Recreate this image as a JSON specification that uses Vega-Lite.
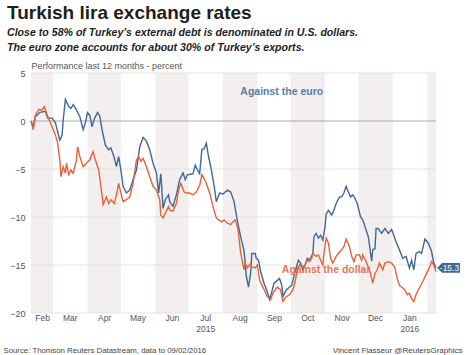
{
  "$schema": "https://vega.github.io/schema/vega-lite/v6.json",
  "width": 405,
  "height": 240,
  "autosize": {"type": "none"},
  "padding": {"left": 31, "top": 73, "right": 37, "bottom": 42},
  "background": "white",
  "config": {"view": {"stroke": null}, "font": "Liberation Sans"},
  "title": {
    "text": "Turkish lira exchange rates",
    "subtitle": ["Close to 58% of Turkey’s external debt is denominated in U.S. dollars.", "The euro zone accounts for about 30% of Turkey’s exports."],
    "anchor": "start",
    "frame": "group",
    "dx": -24,
    "offset": 7,
    "font": "Liberation Sans",
    "fontSize": 19,
    "fontWeight": "bold",
    "color": "#1e1e1e",
    "subtitleFont": "Liberation Sans",
    "subtitleFontSize": 10.6,
    "subtitleFontStyle": "italic",
    "subtitleFontWeight": "bold",
    "subtitleColor": "#222222",
    "subtitlePadding": 5,
    "subtitleLineHeight": 15
  },
  "datasets": {
    "bands": [
      {"d": "2015-02-09", "d2": "2015-03-01"},
      {"d": "2015-04-01", "d2": "2015-05-01"},
      {"d": "2015-06-01", "d2": "2015-07-01"},
      {"d": "2015-08-01", "d2": "2015-09-01"},
      {"d": "2015-10-01", "d2": "2015-11-01"},
      {"d": "2015-12-01", "d2": "2016-01-01"},
      {"d": "2016-02-01", "d2": "2016-02-09"}
    ],
    "grid": [{"v": 5}, {"v": 0}, {"v": -5}, {"v": -10}, {"v": -15}, {"v": -20}],
    "notes": [
      {"d": "2015-09-23", "v": 3.0, "t": "Against the euro", "s": "euro"},
      {"d": "2015-11-02", "v": -15.5, "t": "Against the dollar", "s": "dollar"}
    ],
    "tag": [{"d": "2016-02-09", "v": -15.3, "t": "-15.3"}],
    "series": [
      {"d": "2015-02-09", "s": "euro", "v": 0},
      {"d": "2015-02-11", "s": "euro", "v": -0.6},
      {"d": "2015-02-13", "s": "euro", "v": 0.45},
      {"d": "2015-02-17", "s": "euro", "v": 0.9},
      {"d": "2015-02-22", "s": "euro", "v": 1.0},
      {"d": "2015-02-24", "s": "euro", "v": 0.3},
      {"d": "2015-02-28", "s": "euro", "v": 0.3},
      {"d": "2015-03-03", "s": "euro", "v": -0.2},
      {"d": "2015-03-07", "s": "euro", "v": -2.0},
      {"d": "2015-03-09", "s": "euro", "v": -1.5},
      {"d": "2015-03-10", "s": "euro", "v": 0.1},
      {"d": "2015-03-12", "s": "euro", "v": 2.26},
      {"d": "2015-03-15", "s": "euro", "v": 1.5},
      {"d": "2015-03-17", "s": "euro", "v": 1.3},
      {"d": "2015-03-19", "s": "euro", "v": 1.7},
      {"d": "2015-03-22", "s": "euro", "v": 1.15},
      {"d": "2015-03-25", "s": "euro", "v": 0.45},
      {"d": "2015-03-28", "s": "euro", "v": -0.9},
      {"d": "2015-03-30", "s": "euro", "v": -0.2},
      {"d": "2015-04-01", "s": "euro", "v": 0.87},
      {"d": "2015-04-03", "s": "euro", "v": 0.6},
      {"d": "2015-04-05", "s": "euro", "v": -0.6},
      {"d": "2015-04-07", "s": "euro", "v": 0.2},
      {"d": "2015-04-10", "s": "euro", "v": 0.9},
      {"d": "2015-04-12", "s": "euro", "v": 0.5},
      {"d": "2015-04-14", "s": "euro", "v": -0.9},
      {"d": "2015-04-17", "s": "euro", "v": -2.5},
      {"d": "2015-04-20", "s": "euro", "v": -3.0},
      {"d": "2015-04-22", "s": "euro", "v": -2.8},
      {"d": "2015-04-25", "s": "euro", "v": -3.8},
      {"d": "2015-04-27", "s": "euro", "v": -4.75},
      {"d": "2015-04-29", "s": "euro", "v": -3.7},
      {"d": "2015-05-01", "s": "euro", "v": -5.1},
      {"d": "2015-05-03", "s": "euro", "v": -6.8},
      {"d": "2015-05-06", "s": "euro", "v": -7.5},
      {"d": "2015-05-09", "s": "euro", "v": -7.2},
      {"d": "2015-05-12", "s": "euro", "v": -6.1},
      {"d": "2015-05-15", "s": "euro", "v": -5.1},
      {"d": "2015-05-18", "s": "euro", "v": -2.7},
      {"d": "2015-05-21", "s": "euro", "v": -1.7},
      {"d": "2015-05-24", "s": "euro", "v": -2.1},
      {"d": "2015-05-27", "s": "euro", "v": -3.0},
      {"d": "2015-05-30", "s": "euro", "v": -4.4},
      {"d": "2015-06-02", "s": "euro", "v": -5.4},
      {"d": "2015-06-04", "s": "euro", "v": -7.5},
      {"d": "2015-06-06", "s": "euro", "v": -5.5},
      {"d": "2015-06-08", "s": "euro", "v": -9.1},
      {"d": "2015-06-10", "s": "euro", "v": -8.2},
      {"d": "2015-06-13", "s": "euro", "v": -7.7},
      {"d": "2015-06-14", "s": "euro", "v": -8.4},
      {"d": "2015-06-17", "s": "euro", "v": -8.9},
      {"d": "2015-06-20", "s": "euro", "v": -7.7},
      {"d": "2015-06-23", "s": "euro", "v": -6.1},
      {"d": "2015-06-26", "s": "euro", "v": -5.4},
      {"d": "2015-06-28", "s": "euro", "v": -6.1},
      {"d": "2015-06-30", "s": "euro", "v": -5.6},
      {"d": "2015-07-05", "s": "euro", "v": -5.5},
      {"d": "2015-07-07", "s": "euro", "v": -4.6},
      {"d": "2015-07-09", "s": "euro", "v": -5.1},
      {"d": "2015-07-11", "s": "euro", "v": -5.5},
      {"d": "2015-07-13", "s": "euro", "v": -2.95},
      {"d": "2015-07-15", "s": "euro", "v": -2.9},
      {"d": "2015-07-17", "s": "euro", "v": -2.3},
      {"d": "2015-07-19", "s": "euro", "v": -3.7},
      {"d": "2015-07-21", "s": "euro", "v": -4.75},
      {"d": "2015-07-24", "s": "euro", "v": -6.7},
      {"d": "2015-07-26", "s": "euro", "v": -8.4},
      {"d": "2015-07-29", "s": "euro", "v": -7.5},
      {"d": "2015-08-01", "s": "euro", "v": -7.6},
      {"d": "2015-08-05", "s": "euro", "v": -7.2},
      {"d": "2015-08-08", "s": "euro", "v": -7.4},
      {"d": "2015-08-11", "s": "euro", "v": -8.4},
      {"d": "2015-08-14", "s": "euro", "v": -10.4},
      {"d": "2015-08-17", "s": "euro", "v": -12.1},
      {"d": "2015-08-20", "s": "euro", "v": -13.5},
      {"d": "2015-08-22", "s": "euro", "v": -16.1},
      {"d": "2015-08-24", "s": "euro", "v": -17.3},
      {"d": "2015-08-26", "s": "euro", "v": -15.8},
      {"d": "2015-08-27", "s": "euro", "v": -13.8},
      {"d": "2015-08-30", "s": "euro", "v": -13.8},
      {"d": "2015-08-31", "s": "euro", "v": -14.3},
      {"d": "2015-09-02", "s": "euro", "v": -14.5},
      {"d": "2015-09-04", "s": "euro", "v": -15.7},
      {"d": "2015-09-07", "s": "euro", "v": -16.9},
      {"d": "2015-09-10", "s": "euro", "v": -17.8},
      {"d": "2015-09-12", "s": "euro", "v": -18.6},
      {"d": "2015-09-14", "s": "euro", "v": -17.8},
      {"d": "2015-09-16", "s": "euro", "v": -16.9},
      {"d": "2015-09-19", "s": "euro", "v": -16.6},
      {"d": "2015-09-21", "s": "euro", "v": -16.4},
      {"d": "2015-09-23", "s": "euro", "v": -17.1},
      {"d": "2015-09-24", "s": "euro", "v": -18.3},
      {"d": "2015-09-27", "s": "euro", "v": -17.6},
      {"d": "2015-09-29", "s": "euro", "v": -17.4},
      {"d": "2015-10-02", "s": "euro", "v": -17.1},
      {"d": "2015-10-05", "s": "euro", "v": -15.7},
      {"d": "2015-10-08", "s": "euro", "v": -14.5},
      {"d": "2015-10-10", "s": "euro", "v": -14.8},
      {"d": "2015-10-12", "s": "euro", "v": -15.5},
      {"d": "2015-10-14", "s": "euro", "v": -15.0},
      {"d": "2015-10-16", "s": "euro", "v": -14.3},
      {"d": "2015-10-18", "s": "euro", "v": -14.5},
      {"d": "2015-10-21", "s": "euro", "v": -13.8},
      {"d": "2015-10-22", "s": "euro", "v": -12.05},
      {"d": "2015-10-24", "s": "euro", "v": -11.7},
      {"d": "2015-10-26", "s": "euro", "v": -12.2},
      {"d": "2015-10-28", "s": "euro", "v": -11.9},
      {"d": "2015-10-30", "s": "euro", "v": -12.4},
      {"d": "2015-11-01", "s": "euro", "v": -11.0},
      {"d": "2015-11-02", "s": "euro", "v": -9.7},
      {"d": "2015-11-04", "s": "euro", "v": -9.3},
      {"d": "2015-11-07", "s": "euro", "v": -9.8},
      {"d": "2015-11-09", "s": "euro", "v": -9.3},
      {"d": "2015-11-11", "s": "euro", "v": -8.6},
      {"d": "2015-11-14", "s": "euro", "v": -7.9},
      {"d": "2015-11-16", "s": "euro", "v": -7.9},
      {"d": "2015-11-18", "s": "euro", "v": -7.5},
      {"d": "2015-11-20", "s": "euro", "v": -6.8},
      {"d": "2015-11-22", "s": "euro", "v": -7.4},
      {"d": "2015-11-24", "s": "euro", "v": -7.9},
      {"d": "2015-11-26", "s": "euro", "v": -7.7},
      {"d": "2015-11-28", "s": "euro", "v": -8.05},
      {"d": "2015-11-30", "s": "euro", "v": -8.6},
      {"d": "2015-12-03", "s": "euro", "v": -10.0},
      {"d": "2015-12-05", "s": "euro", "v": -10.3},
      {"d": "2015-12-07", "s": "euro", "v": -11.0},
      {"d": "2015-12-10", "s": "euro", "v": -12.05},
      {"d": "2015-12-13", "s": "euro", "v": -14.6},
      {"d": "2015-12-14", "s": "euro", "v": -13.4},
      {"d": "2015-12-16", "s": "euro", "v": -13.3},
      {"d": "2015-12-17", "s": "euro", "v": -11.2},
      {"d": "2015-12-19", "s": "euro", "v": -11.2},
      {"d": "2015-12-22", "s": "euro", "v": -11.7},
      {"d": "2015-12-25", "s": "euro", "v": -11.2},
      {"d": "2015-12-28", "s": "euro", "v": -11.7},
      {"d": "2015-12-31", "s": "euro", "v": -11.3},
      {"d": "2016-01-02", "s": "euro", "v": -11.9},
      {"d": "2016-01-04", "s": "euro", "v": -12.6},
      {"d": "2016-01-07", "s": "euro", "v": -13.4},
      {"d": "2016-01-10", "s": "euro", "v": -14.3},
      {"d": "2016-01-13", "s": "euro", "v": -14.1},
      {"d": "2016-01-16", "s": "euro", "v": -15.3},
      {"d": "2016-01-18", "s": "euro", "v": -14.5},
      {"d": "2016-01-20", "s": "euro", "v": -15.5},
      {"d": "2016-01-22", "s": "euro", "v": -13.8},
      {"d": "2016-01-25", "s": "euro", "v": -13.6},
      {"d": "2016-01-27", "s": "euro", "v": -13.8},
      {"d": "2016-01-30", "s": "euro", "v": -12.3},
      {"d": "2016-02-02", "s": "euro", "v": -12.7},
      {"d": "2016-02-05", "s": "euro", "v": -13.6},
      {"d": "2016-02-07", "s": "euro", "v": -14.8},
      {"d": "2016-02-09", "s": "euro", "v": -15.3},
      {"d": "2015-02-09", "s": "dollar", "v": 0},
      {"d": "2015-02-11", "s": "dollar", "v": -0.9},
      {"d": "2015-02-13", "s": "dollar", "v": 0.6},
      {"d": "2015-02-16", "s": "dollar", "v": 1.2},
      {"d": "2015-02-19", "s": "dollar", "v": 1.15},
      {"d": "2015-02-21", "s": "dollar", "v": 1.5},
      {"d": "2015-02-23", "s": "dollar", "v": 0.8},
      {"d": "2015-02-26", "s": "dollar", "v": -0.05},
      {"d": "2015-02-28", "s": "dollar", "v": -0.6},
      {"d": "2015-03-03", "s": "dollar", "v": -1.45},
      {"d": "2015-03-05", "s": "dollar", "v": -2.3},
      {"d": "2015-03-07", "s": "dollar", "v": -4.05},
      {"d": "2015-03-08", "s": "dollar", "v": -5.8},
      {"d": "2015-03-10", "s": "dollar", "v": -4.75},
      {"d": "2015-03-12", "s": "dollar", "v": -5.45},
      {"d": "2015-03-13", "s": "dollar", "v": -4.4},
      {"d": "2015-03-15", "s": "dollar", "v": -5.6},
      {"d": "2015-03-17", "s": "dollar", "v": -5.1},
      {"d": "2015-03-19", "s": "dollar", "v": -5.45},
      {"d": "2015-03-22", "s": "dollar", "v": -4.05},
      {"d": "2015-03-23", "s": "dollar", "v": -2.7},
      {"d": "2015-03-25", "s": "dollar", "v": -3.7},
      {"d": "2015-03-28", "s": "dollar", "v": -4.75},
      {"d": "2015-03-31", "s": "dollar", "v": -4.4},
      {"d": "2015-04-03", "s": "dollar", "v": -4.05},
      {"d": "2015-04-06", "s": "dollar", "v": -3.2},
      {"d": "2015-04-08", "s": "dollar", "v": -4.05},
      {"d": "2015-04-11", "s": "dollar", "v": -5.1},
      {"d": "2015-04-13", "s": "dollar", "v": -6.8},
      {"d": "2015-04-15", "s": "dollar", "v": -8.7},
      {"d": "2015-04-18", "s": "dollar", "v": -7.9},
      {"d": "2015-04-20", "s": "dollar", "v": -8.6},
      {"d": "2015-04-22", "s": "dollar", "v": -8.2},
      {"d": "2015-04-25", "s": "dollar", "v": -8.6},
      {"d": "2015-04-27", "s": "dollar", "v": -7.7},
      {"d": "2015-04-29", "s": "dollar", "v": -6.5},
      {"d": "2015-05-01", "s": "dollar", "v": -7.5},
      {"d": "2015-05-03", "s": "dollar", "v": -8.4},
      {"d": "2015-05-06", "s": "dollar", "v": -8.2},
      {"d": "2015-05-09", "s": "dollar", "v": -7.9},
      {"d": "2015-05-12", "s": "dollar", "v": -6.5},
      {"d": "2015-05-15", "s": "dollar", "v": -4.05},
      {"d": "2015-05-17", "s": "dollar", "v": -3.7},
      {"d": "2015-05-19", "s": "dollar", "v": -4.2},
      {"d": "2015-05-21", "s": "dollar", "v": -3.9},
      {"d": "2015-05-24", "s": "dollar", "v": -4.75},
      {"d": "2015-05-27", "s": "dollar", "v": -5.8},
      {"d": "2015-05-30", "s": "dollar", "v": -6.8},
      {"d": "2015-06-02", "s": "dollar", "v": -7.2},
      {"d": "2015-06-05", "s": "dollar", "v": -8.2},
      {"d": "2015-06-06", "s": "dollar", "v": -9.8},
      {"d": "2015-06-08", "s": "dollar", "v": -10.1},
      {"d": "2015-06-10", "s": "dollar", "v": -9.6},
      {"d": "2015-06-13", "s": "dollar", "v": -8.9},
      {"d": "2015-06-14", "s": "dollar", "v": -9.3},
      {"d": "2015-06-17", "s": "dollar", "v": -9.4},
      {"d": "2015-06-20", "s": "dollar", "v": -8.6},
      {"d": "2015-06-22", "s": "dollar", "v": -7.2},
      {"d": "2015-06-24", "s": "dollar", "v": -6.5},
      {"d": "2015-06-27", "s": "dollar", "v": -7.4},
      {"d": "2015-06-29", "s": "dollar", "v": -7.5},
      {"d": "2015-07-02", "s": "dollar", "v": -7.5},
      {"d": "2015-07-05", "s": "dollar", "v": -7.7},
      {"d": "2015-07-08", "s": "dollar", "v": -7.4},
      {"d": "2015-07-11", "s": "dollar", "v": -6.7},
      {"d": "2015-07-13", "s": "dollar", "v": -5.6},
      {"d": "2015-07-15", "s": "dollar", "v": -6.0},
      {"d": "2015-07-17", "s": "dollar", "v": -6.5},
      {"d": "2015-07-20", "s": "dollar", "v": -7.5},
      {"d": "2015-07-23", "s": "dollar", "v": -8.9},
      {"d": "2015-07-26", "s": "dollar", "v": -10.1},
      {"d": "2015-07-28", "s": "dollar", "v": -10.3},
      {"d": "2015-07-31", "s": "dollar", "v": -10.5},
      {"d": "2015-08-02", "s": "dollar", "v": -10.3},
      {"d": "2015-08-05", "s": "dollar", "v": -10.65},
      {"d": "2015-08-08", "s": "dollar", "v": -10.8},
      {"d": "2015-08-10", "s": "dollar", "v": -10.5},
      {"d": "2015-08-12", "s": "dollar", "v": -10.3},
      {"d": "2015-08-14", "s": "dollar", "v": -11.0},
      {"d": "2015-08-15", "s": "dollar", "v": -11.7},
      {"d": "2015-08-17", "s": "dollar", "v": -13.8},
      {"d": "2015-08-20", "s": "dollar", "v": -15.5},
      {"d": "2015-08-21", "s": "dollar", "v": -14.8},
      {"d": "2015-08-23", "s": "dollar", "v": -15.3},
      {"d": "2015-08-26", "s": "dollar", "v": -14.8},
      {"d": "2015-08-27", "s": "dollar", "v": -15.2},
      {"d": "2015-08-30", "s": "dollar", "v": -15.3},
      {"d": "2015-09-01", "s": "dollar", "v": -15.0},
      {"d": "2015-09-03", "s": "dollar", "v": -16.6},
      {"d": "2015-09-06", "s": "dollar", "v": -17.3},
      {"d": "2015-09-08", "s": "dollar", "v": -17.8},
      {"d": "2015-09-10", "s": "dollar", "v": -18.3},
      {"d": "2015-09-13", "s": "dollar", "v": -18.6},
      {"d": "2015-09-15", "s": "dollar", "v": -17.95},
      {"d": "2015-09-17", "s": "dollar", "v": -17.6},
      {"d": "2015-09-19", "s": "dollar", "v": -17.3},
      {"d": "2015-09-22", "s": "dollar", "v": -17.6},
      {"d": "2015-09-24", "s": "dollar", "v": -18.8},
      {"d": "2015-09-27", "s": "dollar", "v": -18.3},
      {"d": "2015-09-30", "s": "dollar", "v": -18.1},
      {"d": "2015-10-03", "s": "dollar", "v": -17.6},
      {"d": "2015-10-05", "s": "dollar", "v": -16.75},
      {"d": "2015-10-07", "s": "dollar", "v": -15.5},
      {"d": "2015-10-09", "s": "dollar", "v": -15.0},
      {"d": "2015-10-12", "s": "dollar", "v": -15.3},
      {"d": "2015-10-14", "s": "dollar", "v": -15.0},
      {"d": "2015-10-16", "s": "dollar", "v": -14.5},
      {"d": "2015-10-18", "s": "dollar", "v": -14.65},
      {"d": "2015-10-20", "s": "dollar", "v": -14.3},
      {"d": "2015-10-21", "s": "dollar", "v": -13.8},
      {"d": "2015-10-24", "s": "dollar", "v": -14.1},
      {"d": "2015-10-26", "s": "dollar", "v": -13.95},
      {"d": "2015-10-28", "s": "dollar", "v": -14.5},
      {"d": "2015-10-30", "s": "dollar", "v": -15.0},
      {"d": "2015-10-31", "s": "dollar", "v": -13.8},
      {"d": "2015-11-02", "s": "dollar", "v": -12.2},
      {"d": "2015-11-04", "s": "dollar", "v": -12.7},
      {"d": "2015-11-06", "s": "dollar", "v": -14.3},
      {"d": "2015-11-08", "s": "dollar", "v": -14.8},
      {"d": "2015-11-11", "s": "dollar", "v": -14.1},
      {"d": "2015-11-13", "s": "dollar", "v": -13.8},
      {"d": "2015-11-16", "s": "dollar", "v": -13.4},
      {"d": "2015-11-18", "s": "dollar", "v": -13.1},
      {"d": "2015-11-20", "s": "dollar", "v": -12.3},
      {"d": "2015-11-23", "s": "dollar", "v": -13.1},
      {"d": "2015-11-25", "s": "dollar", "v": -14.1},
      {"d": "2015-11-27", "s": "dollar", "v": -14.65},
      {"d": "2015-11-29", "s": "dollar", "v": -13.95},
      {"d": "2015-12-02", "s": "dollar", "v": -13.95},
      {"d": "2015-12-04", "s": "dollar", "v": -14.5},
      {"d": "2015-12-05", "s": "dollar", "v": -13.95},
      {"d": "2015-12-08", "s": "dollar", "v": -14.65},
      {"d": "2015-12-10", "s": "dollar", "v": -15.2},
      {"d": "2015-12-12", "s": "dollar", "v": -15.9},
      {"d": "2015-12-14", "s": "dollar", "v": -16.9},
      {"d": "2015-12-16", "s": "dollar", "v": -15.9},
      {"d": "2015-12-18", "s": "dollar", "v": -15.5},
      {"d": "2015-12-20", "s": "dollar", "v": -14.8},
      {"d": "2015-12-23", "s": "dollar", "v": -15.5},
      {"d": "2015-12-25", "s": "dollar", "v": -14.8},
      {"d": "2015-12-28", "s": "dollar", "v": -14.65},
      {"d": "2015-12-31", "s": "dollar", "v": -14.8},
      {"d": "2016-01-03", "s": "dollar", "v": -15.3},
      {"d": "2016-01-05", "s": "dollar", "v": -16.4},
      {"d": "2016-01-07", "s": "dollar", "v": -17.1},
      {"d": "2016-01-10", "s": "dollar", "v": -17.4},
      {"d": "2016-01-12", "s": "dollar", "v": -17.6},
      {"d": "2016-01-14", "s": "dollar", "v": -18.1},
      {"d": "2016-01-16", "s": "dollar", "v": -17.95},
      {"d": "2016-01-18", "s": "dollar", "v": -18.5},
      {"d": "2016-01-20", "s": "dollar", "v": -18.8},
      {"d": "2016-01-22", "s": "dollar", "v": -18.1},
      {"d": "2016-01-25", "s": "dollar", "v": -17.4},
      {"d": "2016-01-28", "s": "dollar", "v": -16.75},
      {"d": "2016-01-31", "s": "dollar", "v": -16.0},
      {"d": "2016-02-03", "s": "dollar", "v": -15.3},
      {"d": "2016-02-05", "s": "dollar", "v": -14.65},
      {"d": "2016-02-07", "s": "dollar", "v": -15.0},
      {"d": "2016-02-09", "s": "dollar", "v": -15.7}
    ]
  },
  "layer": [
    {
      "data": {"name": "bands"},
      "mark": {"type": "rect", "color": "#f3efee"},
      "encoding": {
        "x": {
          "field": "d", "type": "temporal",
          "scale": {"domain": [{"year": 2015, "month": 2, "date": 9}, {"year": 2016, "month": 2, "date": 9}]},
          "axis": {
            "values": [{"year": 2015, "month": 2, "date": 19}, {"year": 2015, "month": 3, "date": 16}, {"year": 2015, "month": 4, "date": 16}, {"year": 2015, "month": 5, "date": 16}, {"year": 2015, "month": 6, "date": 16}, {"year": 2015, "month": 7, "date": 16}, {"year": 2015, "month": 8, "date": 16}, {"year": 2015, "month": 9, "date": 16}, {"year": 2015, "month": 10, "date": 16}, {"year": 2015, "month": 11, "date": 16}, {"year": 2015, "month": 12, "date": 16}, {"year": 2016, "month": 1, "date": 16}],
            "labelExpr": "month(datum.value) == 6 ? [timeFormat(datum.value, '%b'), '2015'] : (month(datum.value) == 0 ? [timeFormat(datum.value, '%b'), '2016'] : timeFormat(datum.value, '%b'))",
            "ticks": false, "domain": false, "grid": false,
            "labelFont": "Liberation Sans", "labelFontSize": 8.5, "labelColor": "#555555",
            "labelPadding": 0, "labelLineHeight": 11, "labelFlush": false, "labelOverlap": false,
            "title": "Source: Thomson Reuters Datastream, data to 09/02/2016",
            "titleFont": "Liberation Sans", "titleFontSize": 7.8, "titleFontWeight": "normal", "titleColor": "#444444",
            "titleAnchor": "start", "titleAlign": "left", "titleBaseline": "alphabetic", "titleX": -28, "titleY": 39
          }
        },
        "x2": {"field": "d2"}
      }
    },
    {
      "data": {"name": "grid"},
      "mark": {"type": "rule", "strokeWidth": 1},
      "encoding": {
        "y": {
          "field": "v", "type": "quantitative",
          "scale": {"domain": [-20, 5], "nice": false, "zero": false},
          "axis": {
            "orient": "right", "labels": false, "ticks": false, "domain": false, "grid": false,
            "title": "Vincent Flasseur @ReutersGraphics",
            "titleAngle": 0, "titleAlign": "right", "titleBaseline": "alphabetic", "titleX": 26, "titleY": 279,
            "titleFont": "Liberation Sans", "titleFontSize": 8, "titleFontWeight": "normal", "titleColor": "#444444"
          }
        },
        "color": {"condition": {"test": "datum.v === 0", "value": "#a8a8a8"}, "value": "#e3e3e3"}
      }
    },
    {
      "data": {"name": "series"},
      "encoding": {
        "x": {
          "field": "d", "type": "temporal",
          "scale": {"domain": [{"year": 2015, "month": 2, "date": 9}, {"year": 2016, "month": 2, "date": 9}]},
          "axis": {
            "values": [{"year": 2015, "month": 2, "date": 19}, {"year": 2015, "month": 3, "date": 16}, {"year": 2015, "month": 4, "date": 16}, {"year": 2015, "month": 5, "date": 16}, {"year": 2015, "month": 6, "date": 16}, {"year": 2015, "month": 7, "date": 16}, {"year": 2015, "month": 8, "date": 16}, {"year": 2015, "month": 9, "date": 16}, {"year": 2015, "month": 10, "date": 16}, {"year": 2015, "month": 11, "date": 16}, {"year": 2015, "month": 12, "date": 16}, {"year": 2016, "month": 1, "date": 16}],
            "labelExpr": "month(datum.value) == 6 ? [timeFormat(datum.value, '%b'), '2015'] : (month(datum.value) == 0 ? [timeFormat(datum.value, '%b'), '2016'] : timeFormat(datum.value, '%b'))",
            "ticks": false, "domain": false, "grid": false,
            "labelFont": "Liberation Sans", "labelFontSize": 8.5, "labelColor": "#555555",
            "labelPadding": 0, "labelLineHeight": 11, "labelFlush": false, "labelOverlap": false,
            "title": "Source: Thomson Reuters Datastream, data to 09/02/2016",
            "titleFont": "Liberation Sans", "titleFontSize": 7.8, "titleFontWeight": "normal", "titleColor": "#444444",
            "titleAnchor": "start", "titleAlign": "left", "titleBaseline": "alphabetic", "titleX": -28, "titleY": 39
          }
        },
        "y": {
          "field": "v", "type": "quantitative",
          "scale": {"domain": [-20, 5], "nice": false, "zero": false},
          "axis": {
            "orient": "left",
            "values": [-20, -15, -10, -5, 0, 5],
            "grid": false, "ticks": false, "domain": false, "labelPadding": 6,
            "labelFont": "Liberation Sans", "labelFontSize": 9, "labelColor": "#555555",
            "title": "Performance last 12 months - percent",
            "titleAngle": 0, "titleAlign": "left", "titleBaseline": "alphabetic", "titleX": 0, "titleY": -5,
            "titleFont": "Liberation Sans", "titleFontSize": 9, "titleFontWeight": "normal", "titleColor": "#555555"
          }
        }
      },
      "layer": [
        {
          "mark": {"type": "line", "strokeWidth": 1.4},
          "encoding": {
            "color": {"field": "s", "type": "nominal", "scale": {"domain": ["euro", "dollar"], "range": ["#3f6896", "#e2643e"]}, "legend": null}
          }
        },
        {
          "data": {"name": "notes"},
          "mark": {"type": "text", "fontSize": 10.5, "fontWeight": "bold", "align": "center", "baseline": "middle", "opacity": 0.85},
          "encoding": {
            "text": {"field": "t"},
            "color": {"field": "s", "type": "nominal", "scale": {"domain": ["euro", "dollar"], "range": ["#3f6896", "#e2643e"]}, "legend": null}
          }
        },
        {
          "data": {"name": "tag"},
          "mark": {"type": "point", "shape": "M0.1,0L0.5,-0.4L2,-0.4L2,0.4L0.5,0.4Z", "filled": true, "size": 576, "color": "#3f6896", "opacity": 1}
        },
        {
          "data": {"name": "tag"},
          "mark": {"type": "text", "dx": 13.5, "color": "white", "fontSize": 8.5, "align": "center", "baseline": "middle"},
          "encoding": {"text": {"field": "t"}}
        }
      ]
    }
  ],
  "resolve": {"axis": {"y": "independent"}}
}
